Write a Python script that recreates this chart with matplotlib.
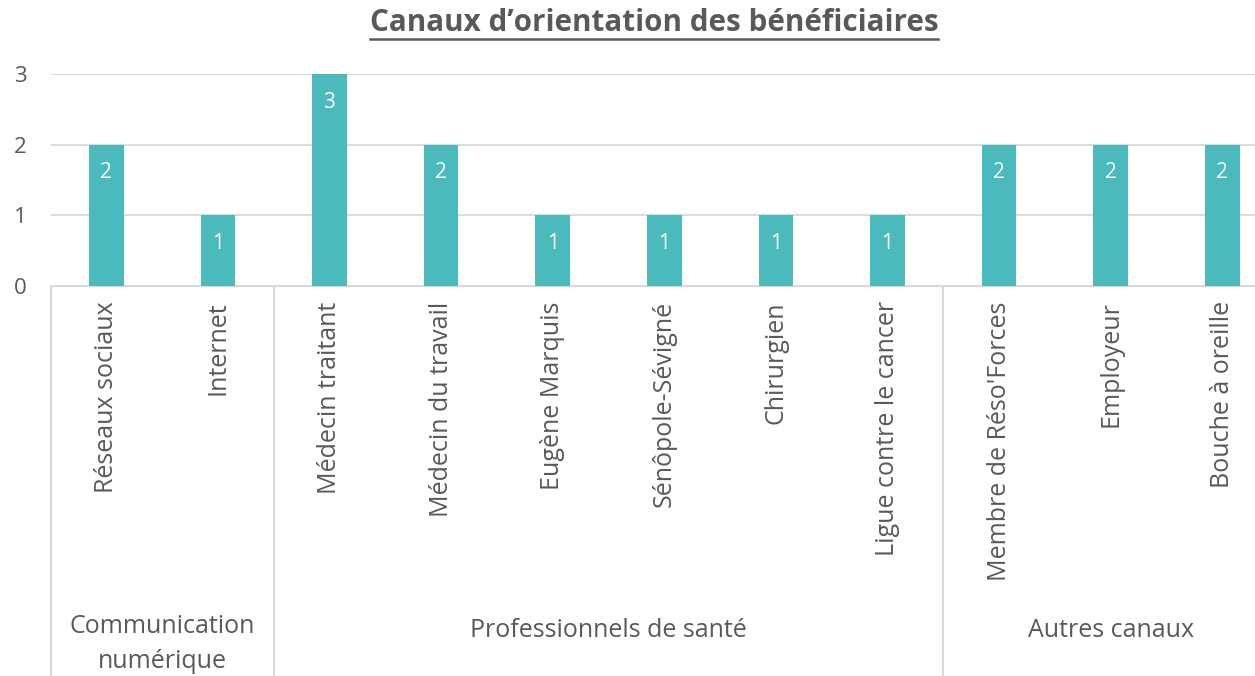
import matplotlib.pyplot as plt
from matplotlib.lines import Line2D
import matplotlib.transforms as mtransforms

plt.rcParams["font.family"] = ["Open Sans", "DejaVu Sans"]

# Données
categories = ["Réseaux sociaux", "Internet", "Médecin traitant", "Médecin du travail",
              "Eugène Marquis", "Sénôpole-Sévigné", "Chirurgien", "Ligue contre le cancer",
              "Membre de Réso'Forces", "Employeur", "Bouche à oreille"]
valeurs = [2, 1, 3, 2, 1, 1, 1, 1, 2, 2, 2]
groupes = ["Communication\nnumérique", "Professionnels de santé", "Autres canaux"]
groupe_bornes = [(0, 1), (2, 7), (8, 10)]

BAR = "#4BBABD"
TXT = "#595959"
GRID = "#D9D9D9"

W, H = 1255, 676
fig = plt.figure(figsize=(W / 100, H / 100), dpi=100)
# zone de tracé (en pixels) : x 50.5 -> 1278, y 74 -> 286
ax = fig.add_axes([50.5 / W, (H - 286) / H, (1278 - 50.5) / W, (286 - 74) / H])

x = list(range(len(categories)))
bars = ax.bar(x, valeurs, width=0.31, color=BAR, zorder=3)

for b, v in zip(bars, valeurs):
    ax.annotate(str(v), (b.get_x() + b.get_width() / 2, v), xytext=(0, -28),
                textcoords="offset pixels", ha="center", va="center",
                color="white", fontsize=15, zorder=4)

ax.set_xlim(-0.5, len(categories) - 0.5)
ax.set_ylim(0, 3)
ax.set_yticks([0, 1, 2, 3])
ax.yaxis.grid(True, color=GRID, linewidth=1.3, zorder=0)
ax.set_axisbelow(True)
for s in ax.spines.values():
    s.set_visible(False)

ax.tick_params(axis="y", length=0, pad=17, labelsize=16, labelcolor=TXT)
ax.set_xticks(x)
ax.set_xticklabels(categories, rotation=90, va="top", ha="center")
ax.tick_params(axis="x", length=0, pad=11, labelsize=18, labelcolor=TXT)

# axe des catégories et séparateurs de groupes
trans = mtransforms.blended_transform_factory(ax.transData, ax.transAxes)
ax.add_line(Line2D([-0.5, len(categories) - 0.5], [0, 0], transform=trans,
                   color=GRID, linewidth=1.5, clip_on=False, zorder=2))
bas = -(H - 286) / (286 - 74) - 0.1
for sep in [-0.5, 1.5, 7.5, 10.5]:
    ax.add_line(Line2D([sep, sep], [0, bas], transform=trans, color=GRID,
                       linewidth=1.5, clip_on=False))

def y_px(p):
    return -(p - 286) / (286 - 74)

for nom, (a, b) in zip(groupes, groupe_bornes):
    if "\n" in nom:
        ax.text((a + b) / 2, y_px(614), nom, transform=trans, ha="center", va="top",
                fontsize=18, color=TXT, linespacing=1.55)
    else:
        ax.text((a + b) / 2, y_px(630), nom, transform=trans, ha="center", va="center",
                fontsize=18, color=TXT)

# titre souligné
titre = fig.text(654 / W, 1 - 23 / H, "Canaux d’orientation des bénéficiaires",
                 ha="center", va="center", fontsize=21.3, fontweight="bold", color=TXT)
fig.canvas.draw()
bb = titre.get_window_extent()
y_sous = (bb.y0 - 1) / H
fig.add_artist(Line2D([bb.x0 / W, bb.x1 / W], [y_sous, y_sous], color=TXT, linewidth=1.8))

fig.savefig("out.png", dpi=100)
